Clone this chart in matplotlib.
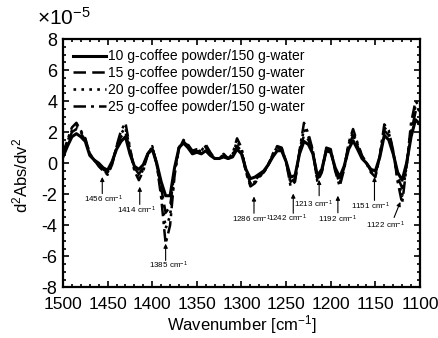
import numpy as np
import matplotlib
matplotlib.use("Agg")
import matplotlib.pyplot as plt
from matplotlib.ticker import MultipleLocator

plt.rcParams['font.family'] = ['Liberation Sans', 'DejaVu Sans']
plt.rcParams['mathtext.fontset'] = 'custom'
plt.rcParams['mathtext.rm'] = 'Liberation Sans'
plt.rcParams['mathtext.it'] = 'Liberation Sans:italic'
plt.rcParams['axes.unicode_minus'] = False

# wavenumber grid, 1500 -> 1100 cm-1 every 5
wavenumber = np.arange(1500, 1099, -5)

# second derivative spectra, in units of 1e-5
d2_10g = [0.4, 1.1, 1.7, 1.9, 1.7, 1.4, 0.5, 0.2, 0.0, -0.3,
          -0.45, 0.1, 0.9, 1.4, 1.7, 0.6, -0.2, -0.4, -0.1, 0.6,
          0.9, 0.0, -1.2, -2.1, -2.1, -0.3, 1.0, 1.3, 1.0, 0.6,
          0.7, 0.6, 0.8, 0.5, 0.3, 0.3, 0.4, 0.3, 0.4, 0.9,
          0.6, -0.4, -1.0, -0.9, -0.7, -0.5, -0.1, 0.4, 0.8, 0.8,
          0.1, -0.9, -0.8, 0.6, 1.4, 1.2, 0.6, -0.8, -0.4, 0.8,
          0.7, -0.3, -0.9, -0.2, 0.9, 1.45, 0.9, 0.3, 0.0, -0.4,
          -0.5, 0.4, 1.8, 1.5, 0.6, -0.6, -1.1, 0.0, 1.7, 2.8,
          2.5]
d2_15g = [0.5, 1.3, 2.0, 2.2, 1.9, 1.5, 0.6, 0.2, -0.1, -0.4,
          -0.6, 0.0, 1.0, 1.7, 2.0, 0.8, -0.3, -0.7, -0.3, 0.6,
          1.0, 0.0, -1.6, -3.2, -2.8, -0.5, 1.0, 1.4, 1.1, 0.7,
          0.8, 0.7, 1.0, 0.6, 0.3, 0.3, 0.5, 0.3, 0.5, 1.1,
          0.8, -0.5, -1.3, -1.1, -0.8, -0.6, -0.1, 0.5, 1.0, 0.9,
          0.1, -1.2, -1.0, 0.7, 1.8, 1.5, 0.7, -1.0, -0.5, 0.9,
          0.8, -0.4, -1.2, -0.3, 1.1, 1.8, 1.1, 0.4, 0.0, -0.5,
          -0.7, 0.4, 2.1, 1.8, 0.7, -0.9, -1.6, -0.1, 2.0, 3.3,
          3.0]
d2_20g = [0.55, 1.4, 2.1, 2.4, 2.0, 1.55, 0.6, 0.2, -0.15, -0.45,
          -0.7, -0.05, 1.05, 1.9, 2.3, 0.9, -0.4, -0.9, -0.4, 0.6,
          1.05, -0.05, -1.9, -4.2, -3.4, -0.6, 1.0, 1.45, 1.15, 0.75,
          0.85, 0.75, 1.1, 0.65, 0.3, 0.3, 0.55, 0.3, 0.55, 1.4,
          0.9, -0.55, -1.4, -1.2, -0.85, -0.6, -0.1, 0.55, 1.05, 0.95,
          0.1, -1.3, -1.1, 0.75, 2.2, 1.7, 0.75, -1.1, -0.55, 0.95,
          0.85, -0.45, -1.3, -0.35, 1.2, 2.0, 1.2, 0.45, 0.0, -0.55,
          -0.8, 0.45, 2.3, 1.95, 0.75, -1.05, -2.1, -0.15, 2.3, 3.7,
          3.3]
d2_25g = [0.6, 1.5, 2.3, 2.6, 2.1, 1.6, 0.6, 0.2, -0.2, -0.5,
          -0.75, -0.1, 1.1, 2.1, 2.6, 1.0, -0.5, -1.1, -0.5, 0.6,
          1.1, -0.1, -2.2, -5.2, -4.0, -0.8, 1.0, 1.5, 1.2, 0.8,
          0.9, 0.8, 1.2, 0.7, 0.3, 0.3, 0.6, 0.3, 0.6, 1.6,
          1.0, -0.6, -1.5, -1.3, -0.9, -0.6, -0.1, 0.6, 1.1, 1.0,
          0.1, -1.5, -1.2, 0.8, 2.6, 1.9, 0.8, -1.2, -0.6, 1.0,
          0.9, -0.5, -1.5, -0.4, 1.3, 2.2, 1.3, 0.5, 0.0, -0.6,
          -0.9, 0.5, 2.5, 2.1, 0.8, -1.2, -2.6, -0.2, 2.6, 4.0,
          3.6]

labels = ['10 g-coffee powder/150 g-water',
          '15 g-coffee powder/150 g-water',
          '20 g-coffee powder/150 g-water',
          '25 g-coffee powder/150 g-water']

# marked bands: position, arrow tail / tip, label position
band_pos = [1456, 1414, 1385, 1286, 1242, 1213, 1192, 1151, 1122]
arrow_tail = [-1.96, -2.66, -6.27, -3.23, -3.23, -2.1, -3.2, -2.4, -3.5]
arrow_tip = [-0.89, -1.52, -5.19, -2.15, -1.96, -1.08, -2.1, -0.89, -2.5]
label_x = [1455, 1418, 1382, 1289, 1249, 1219, 1193, 1156, 1139]
label_y = [-2.35, -3.04, -6.58, -3.6, -3.54, -2.66, -3.6, -2.8, -4.0]
tail_x = [1456, 1414, 1385, 1286, 1242, 1213, 1192, 1151, 1129]

fig = plt.figure(figsize=(4.39, 3.38), dpi=100)
ax = fig.add_axes([0.1435, 0.15, 0.8132, 0.7346])

ax.plot(wavenumber, d2_10g, 'k-', lw=2.2, label=labels[0])
ax.plot(wavenumber, d2_15g, color='k', ls=(0, (5, 2.5)), lw=1.8, label=labels[1])
ax.plot(wavenumber, d2_20g, color='k', ls=(0, (1.0, 2.0)), lw=1.9, label=labels[2])
ax.plot(wavenumber, d2_25g, color='k', ls=(0, (5, 2, 1.2, 2)), lw=1.8, label=labels[3])

for i, w in enumerate(band_pos):
    ax.annotate('', xy=(w, arrow_tip[i]), xytext=(tail_x[i], arrow_tail[i]),
                arrowprops=dict(arrowstyle='-|>', color='k', lw=0.8,
                                mutation_scale=6, shrinkA=0, shrinkB=0))
    ax.text(label_x[i], label_y[i], '%d cm$^{-1}$' % w, fontsize=5.8,
            ha='center', va='center')

ax.set_xlim(1500, 1100)
ax.set_ylim(-8, 8)
ax.xaxis.set_major_locator(MultipleLocator(50))
ax.xaxis.set_minor_locator(MultipleLocator(10))
ax.yaxis.set_major_locator(MultipleLocator(2))
ax.yaxis.set_minor_locator(MultipleLocator(0.5))
ax.tick_params(which='both', direction='in', top=True, right=True, width=1.2)
ax.tick_params(which='major', length=4, labelsize=13)
ax.tick_params(axis='x', which='major', pad=7, labelsize=12.5)
ax.tick_params(axis='y', which='major', pad=4)
ax.tick_params(which='minor', length=2)
for sp in ax.spines.values():
    sp.set_linewidth(1.6)

ax.set_xlabel('Wavenumber [cm$^{-1}$]', fontsize=12)
ax.xaxis.set_label_coords(0.5, -0.105)
ax.set_ylabel('d$^{2}$Abs/dv$^{2}$', fontsize=12)
ax.yaxis.set_label_coords(-0.09, 0.45)
fig.text(0.085, 0.948, r'$\times$10$^{-5}$', fontsize=15, ha='left', va='center')

ax.legend(loc='upper left', frameon=False, fontsize=10, handlelength=2.4,
          handletextpad=0.15, labelspacing=0.2, borderaxespad=0.3,
          bbox_to_anchor=(0.0, 0.997))

fig.savefig('out.png', dpi=100)
